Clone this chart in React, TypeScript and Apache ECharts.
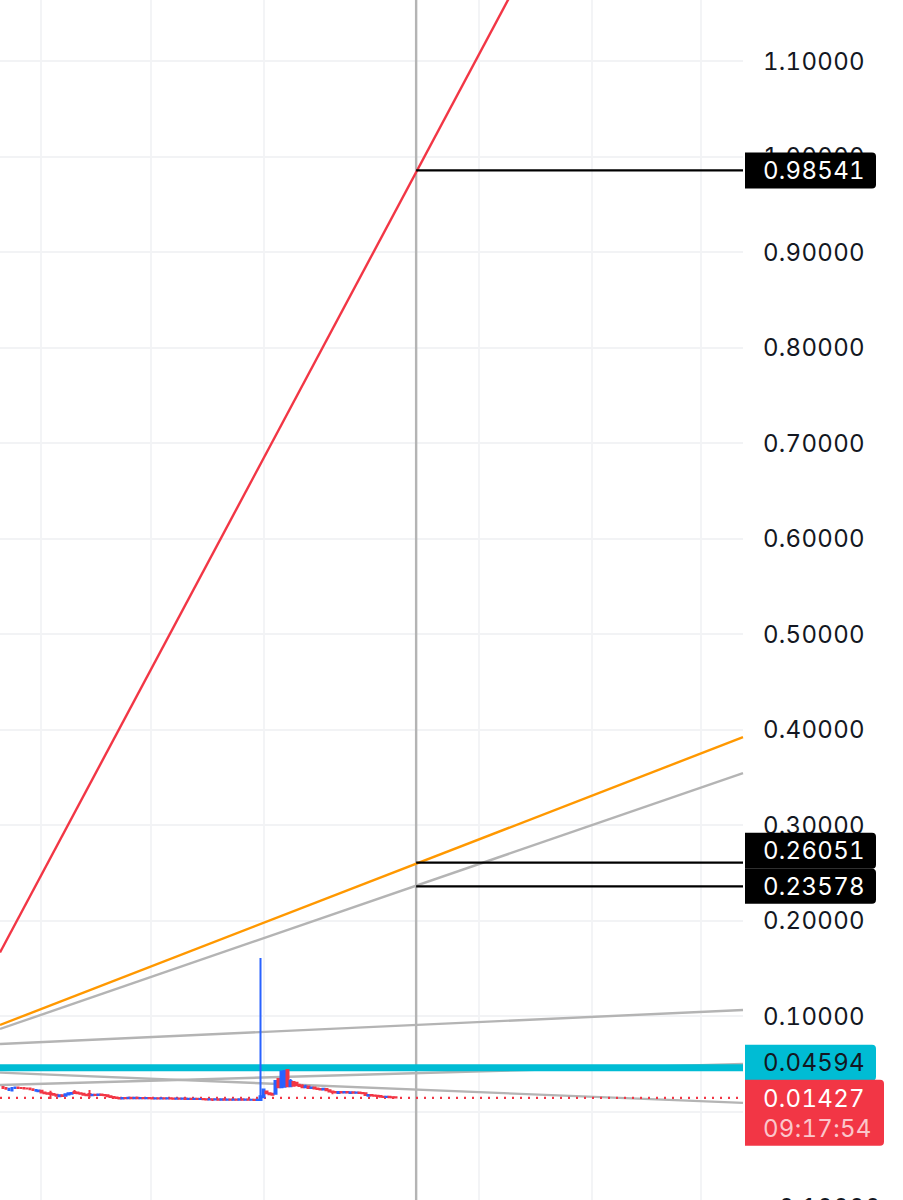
import { useEffect, useRef } from 'react'
import * as echarts from 'echarts'

const FONT = 'Inter, "Noto Sans", sans-serif'
const BLUE = '#2962ff'
const RED = '#f23645'
const GRAY = '#b4b4b4'
const CYAN = '#00bcd4'
const ORANGE = '#ff9800'
const INK = '#131722'
const GRID = '#f2f3f5'

// number of bars that fit in the plot width
const visibleBars = 248
const cursorBar = 138.9
const lastPrice = 0.01427
const levelPrice = 0.04594
const gridBars = [13.7, 50.4, 88.1, 159.9, 197.6, 233.9]

// open, close, low, high
const candles: number[][] = [
  [0.0257, 0.0247, 0.0247, 0.026], [0.0247, 0.0237, 0.0232, 0.025], [0.0226, 0.0237, 0.0221, 0.024], [0.0221, 0.0247, 0.0216, 0.025],
  [0.0247, 0.0252, 0.0242, 0.0255], [0.0252, 0.0247, 0.0242, 0.0255], [0.0247, 0.0245, 0.024, 0.025], [0.0245, 0.0242, 0.024, 0.0247],
  [0.0242, 0.024, 0.0237, 0.0245], [0.024, 0.0232, 0.023, 0.0242], [0.0232, 0.0226, 0.0221, 0.0235], [0.0216, 0.0226, 0.0211, 0.0228],
  [0.0211, 0.0221, 0.0205, 0.0224], [0.0216, 0.02, 0.0195, 0.0218], [0.02, 0.019, 0.0186, 0.0205], [0.019, 0.0186, 0.0182, 0.0195],
  [0.019, 0.0184, 0.0132, 0.0216], [0.0184, 0.0176, 0.017, 0.0188], [0.0176, 0.0165, 0.016, 0.018], [0.016, 0.017, 0.0155, 0.0172],
  [0.017, 0.0163, 0.0158, 0.0174], [0.0165, 0.018, 0.016, 0.0182], [0.0178, 0.019, 0.0172, 0.0192], [0.0186, 0.0195, 0.018, 0.0198],
  [0.0205, 0.0195, 0.019, 0.0226], [0.0198, 0.019, 0.0184, 0.0205], [0.019, 0.0186, 0.018, 0.0195], [0.0186, 0.0176, 0.017, 0.019],
  [0.0176, 0.017, 0.0165, 0.0182], [0.0184, 0.017, 0.0142, 0.0226], [0.017, 0.0176, 0.0165, 0.018], [0.0176, 0.0174, 0.0168, 0.0182],
  [0.0174, 0.0178, 0.017, 0.0184], [0.0178, 0.0172, 0.0168, 0.018], [0.0172, 0.017, 0.0165, 0.0178], [0.017, 0.016, 0.0155, 0.0174],
  [0.016, 0.0152, 0.0148, 0.0165], [0.0152, 0.0147, 0.014, 0.0156], [0.0147, 0.0142, 0.0135, 0.015], [0.0142, 0.0137, 0.0132, 0.0146],
  [0.0137, 0.0142, 0.0132, 0.0146], [0.0142, 0.0139, 0.0135, 0.0144], [0.0139, 0.0144, 0.0136, 0.0147], [0.0144, 0.014, 0.0136, 0.0147],
  [0.014, 0.0143, 0.0136, 0.0146], [0.0143, 0.0139, 0.0135, 0.015], [0.0139, 0.0142, 0.0135, 0.015], [0.0142, 0.0138, 0.0134, 0.0146],
  [0.0138, 0.0141, 0.0134, 0.0144], [0.0141, 0.0139, 0.0135, 0.0144], [0.0139, 0.0137, 0.0133, 0.0143], [0.0137, 0.014, 0.0133, 0.0144],
  [0.014, 0.0137, 0.0133, 0.0143], [0.0137, 0.0139, 0.0133, 0.0142], [0.0139, 0.0136, 0.0132, 0.0142], [0.0136, 0.0138, 0.0132, 0.0148],
  [0.0138, 0.0135, 0.0131, 0.0141], [0.0135, 0.0133, 0.0129, 0.0139], [0.0133, 0.0136, 0.0129, 0.0138], [0.0136, 0.0133, 0.0128, 0.0138],
  [0.0133, 0.0135, 0.0129, 0.0138], [0.0135, 0.0132, 0.0128, 0.0137], [0.0132, 0.0134, 0.0128, 0.0137], [0.0134, 0.013, 0.0126, 0.0137],
  [0.013, 0.0133, 0.0126, 0.0136], [0.0133, 0.013, 0.0126, 0.0135], [0.013, 0.0132, 0.0126, 0.0135], [0.0132, 0.0128, 0.0124, 0.0134],
  [0.0128, 0.0126, 0.0122, 0.013], [0.0126, 0.0128, 0.0122, 0.013], [0.0128, 0.0125, 0.0111, 0.013], [0.0125, 0.0127, 0.0121, 0.0136],
  [0.0127, 0.0124, 0.012, 0.0129], [0.0124, 0.0127, 0.012, 0.0129], [0.0127, 0.0124, 0.012, 0.0136], [0.0124, 0.0126, 0.012, 0.0128],
  [0.0126, 0.0123, 0.0119, 0.0136], [0.0123, 0.0126, 0.0119, 0.0128], [0.0126, 0.0124, 0.012, 0.0136], [0.0124, 0.0127, 0.012, 0.0129],
  [0.0127, 0.0124, 0.012, 0.0129], [0.0124, 0.0125, 0.012, 0.0128], [0.0125, 0.0122, 0.0118, 0.0128], [0.0122, 0.0124, 0.0118, 0.0127],
  [0.0124, 0.0121, 0.0117, 0.0126], [0.0121, 0.0124, 0.0118, 0.0128], [0.012, 0.016, 0.011, 0.1607], [0.015, 0.023, 0.014, 0.024],
  [0.021, 0.019, 0.0185, 0.0215], [0.019, 0.018, 0.0175, 0.0195], [0.0185, 0.0175, 0.017, 0.019], [0.0185, 0.032, 0.0175, 0.033],
  [0.034, 0.0255, 0.025, 0.035], [0.0255, 0.042, 0.025, 0.0425], [0.026, 0.0425, 0.0255, 0.043], [0.0435, 0.0265, 0.0255, 0.044],
  [0.0265, 0.032, 0.026, 0.034], [0.031, 0.027, 0.026, 0.032], [0.03, 0.0275, 0.0265, 0.0305], [0.0275, 0.0268, 0.026, 0.029],
  [0.0268, 0.0255, 0.025, 0.0285], [0.0255, 0.0262, 0.025, 0.028], [0.0262, 0.0245, 0.024, 0.0265], [0.0245, 0.0252, 0.024, 0.026],
  [0.0252, 0.024, 0.0235, 0.0255], [0.024, 0.0235, 0.023, 0.0243], [0.0235, 0.023, 0.0225, 0.024], [0.023, 0.0238, 0.0225, 0.0245],
  [0.0235, 0.0222, 0.0218, 0.0238], [0.0222, 0.021, 0.0205, 0.0225], [0.021, 0.0205, 0.018, 0.0215], [0.0205, 0.02, 0.0195, 0.021],
  [0.0195, 0.0205, 0.0192, 0.0208], [0.0205, 0.02, 0.0195, 0.021], [0.02, 0.0203, 0.0196, 0.0206], [0.0203, 0.0198, 0.0194, 0.0208],
  [0.0195, 0.0202, 0.0192, 0.0205], [0.0202, 0.0197, 0.0193, 0.0205], [0.0197, 0.02, 0.0193, 0.0203], [0.02, 0.0195, 0.019, 0.0203],
  [0.0195, 0.019, 0.0185, 0.0198], [0.019, 0.0172, 0.0165, 0.0193], [0.0165, 0.0172, 0.016, 0.0175], [0.0172, 0.0168, 0.0162, 0.0175],
  [0.0168, 0.0165, 0.016, 0.0172], [0.0165, 0.0162, 0.0158, 0.0168], [0.0162, 0.0155, 0.0152, 0.0165], [0.0155, 0.0151, 0.0148, 0.0158],
  [0.0151, 0.0154, 0.0147, 0.0157], [0.0154, 0.015, 0.0146, 0.0156], [0.015, 0.0148, 0.0145, 0.0153], [0.0148, 0.0146, 0.0143, 0.015],
]

// two end points of each drawn line, [bar, price]
const redTrend = [[0, 0.1665], [248, 1.6253]]
const orangeTrend = [[0, 0.0906], [248, 0.392]]
const grayTrends = [
  [[0, 0.0864], [248, 0.3543]],
  [[0, 0.0707], [248, 0.1063]],
  [[0, 0.0278], [248, 0.0498]],
  [[0, 0.0407], [248, 0.009]],
]
const crossLevels = [0.98541, 0.26051, 0.23578]

// price tags on the scale: price, first line, second line, fill, text colour, shift from price, width, height
const tags: [number, string, string, string, string, number, number, number][] = [
  [0.98541, '0.98541', '', '#000000', '#ffffff', 0, 131, 36],
  [0.26051, '0.26051', '', '#000000', '#ffffff', -12, 131, 36],
  [0.23578, '0.23578', '', '#000000', '#ffffff', 0, 131, 35],
  [0.04594, '0.04594', '', CYAN, INK, -5, 131, 36],
  [0.01427, '0.01427', '09:17:54', RED, '#ffffff', 15, 139, 66],
]

function lineSeries(data: number[][], color: string, width: number, z = 3, type: any = 'solid') {
  return {
    type: 'line',
    data,
    showSymbol: false,
    symbol: 'none',
    silent: true,
    z,
    lineStyle: { color, width, type },
  }
}

function tagText(x: number, y: number, text: string, fill: string) {
  return {
    type: 'text',
    style: { x, y, text, fill, fontFamily: FONT, fontSize: 24, textAlign: 'left', textVerticalAlign: 'middle' },
  }
}

export default function App() {
  const ref = useRef<HTMLDivElement>(null)

  useEffect(() => {
    if (!ref.current) return
    const chart = echarts.init(ref.current, undefined, { renderer: 'svg' })

    chart.setOption({
      animation: false,
      backgroundColor: '#ffffff',
      // the scale runs past the top and bottom of the window
      grid: { left: 0, width: 743, top: -34.5, height: 1337, outerBoundsMode: 'none' },
      xAxis: { type: 'value', min: 0, max: visibleBars, show: false },
      yAxis: {
        type: 'value',
        position: 'right',
        min: -0.2,
        max: 1.2,
        interval: 0.1,
        axisLine: { show: false },
        axisTick: { show: false },
        axisLabel: {
          margin: 20,
          color: INK,
          fontFamily: FONT,
          fontSize: 24,
          formatter: (v: number) => v.toFixed(5),
        },
        splitLine: { lineStyle: { color: GRID, width: 1.8 } },
      },
      series: [
        {
          // vertical grid lines fall on dates, not on even steps
          type: 'line',
          data: [],
          silent: true,
          z: 1,
          markLine: {
            silent: true,
            z: 1,
            symbol: 'none',
            label: { show: false },
            lineStyle: { color: GRID, width: 1.8, type: 'solid' },
            data: gridBars.map((b) => ({ xAxis: b })),
          },
        },
        lineSeries([[cursorBar, -0.2], [cursorBar, 1.2]], GRAY, 2.4),
        ...grayTrends.map((t) => lineSeries(t, GRAY, 2.4)),
        lineSeries(orangeTrend, ORANGE, 2.4, 4),
        lineSeries(redTrend, RED, 2.4, 4),
        ...crossLevels.map((v) => lineSeries([[cursorBar, v], [visibleBars, v]], '#000000', 2.2, 4)),
        lineSeries([[0, levelPrice], [visibleBars, levelPrice]], CYAN, 7, 5),
        lineSeries([[0, lastPrice], [visibleBars, lastPrice]], RED, 2.4, 5, [2, 6]),
        {
          type: 'candlestick',
          data: candles.map((c, i) => [i + 1, ...c]),
          encode: { x: 0, y: [1, 2, 3, 4] },
          barWidth: 2.4,
          silent: true,
          z: 6,
          itemStyle: { color: BLUE, color0: RED, borderColor: BLUE, borderColor0: RED, borderWidth: 2 },
        },
        {
          type: 'custom',
          silent: true,
          z: 10,
          clip: false,
          data: tags.map((t) => [visibleBars, t[0]]),
          encode: { x: 0, y: 1 },
          renderItem: (params: any, api: any) => {
            const [label, sub, fill, textColor, shift, width, height] = tags[params.dataIndex].slice(1) as [string, string, string, string, number, number, number]
            const [x, y] = api.coord([visibleBars, api.value(1)])
            const cy = y + shift
            const top = cy - height / 2
            const children: any[] = [
              {
                type: 'rect',
                shape: { x: x + 2, y: top, width, height, r: [0, 4, 4, 0] },
                style: { fill },
              },
              tagText(x + 20, sub ? top + 19 : cy, label, textColor),
            ]
            if (sub) children.push(tagText(x + 20, top + 49, sub, '#fbc6cb'))
            return { type: 'group', children }
          },
        },
      ],
    })

    return () => chart.dispose()
  }, [])

  return (
    <div
      ref={ref}
      style={{
        position: 'fixed',
        left: 0,
        top: 0,
        width: 903,
        height: 1200,
        overflow: 'hidden',
        letterSpacing: '0.3px',
        fontFeatureSettings: '"tnum"',
      }}
    />
  )
}
